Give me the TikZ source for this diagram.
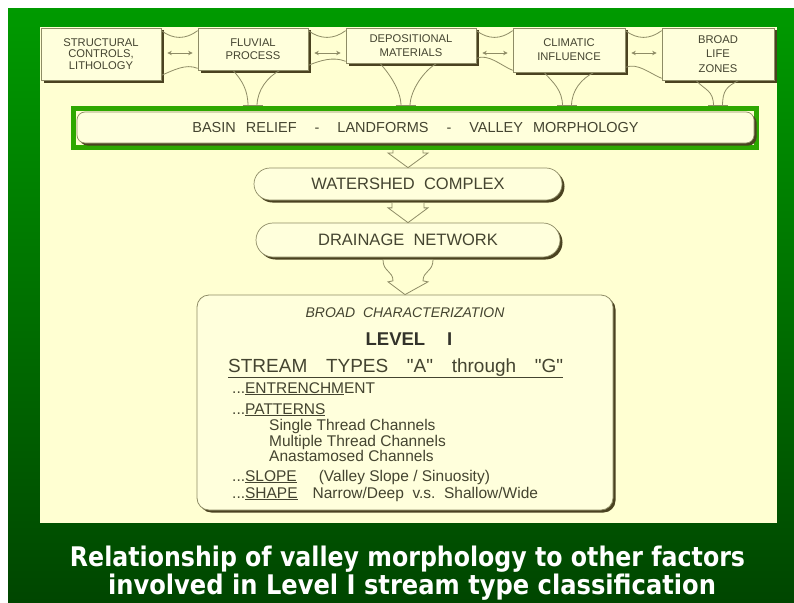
\documentclass[tikz,border=0pt]{standalone}
\usepackage{fontspec}
\usepackage{graphicx}
\setmainfont{Liberation Sans}[Ligatures=TeXOff]
\newfontfamily\capfont{DejaVu Sans}
\usetikzlibrary{shadows,calc,arrows.meta}
\definecolor{cream}{HTML}{FFFFD2}
\definecolor{boxfill}{HTML}{FFFFDC}
\definecolor{ink}{HTML}{444430}
\definecolor{inkdark}{HTML}{33332A}
\definecolor{edge}{HTML}{8E8C66}
\definecolor{shadowc}{HTML}{4A4220}
\definecolor{frameg}{HTML}{2EA800}
\definecolor{bgtop}{HTML}{009A00}
\definecolor{bgbot}{HTML}{004600}
\begin{document}
\begin{tikzpicture}[x=1pt,y=-1pt,
 shad/.style={drop shadow={shadow xshift=2.5pt,shadow yshift=-2.5pt,fill=shadowc,opacity=1}},
 topbox/.style={shad,draw=edge,line width=0.7pt,fill=boxfill,align=center,text=ink,inner sep=0pt},
 pill/.style={shad,draw=edge,line width=0.7pt,fill=boxfill,text=ink,inner sep=0pt,font=\fontsize{16.5}{18}\selectfont},
 conn/.style={draw=edge,line width=0.8pt},
 dbl/.style={draw=edge,line width=0.9pt,{Stealth[length=4.5pt,width=4.5pt]}-{Stealth[length=4.5pt,width=4.5pt]}},
 hollow/.style={draw=edge,line width=0.8pt,fill=cream,line join=miter},
 lvl/.style={anchor=base west,inner sep=0pt,text=ink,font=\fontsize{15.5}{17}\selectfont},
]
\useasboundingbox (0,0) rectangle (794,602);
\fill[white] (0,0) rectangle (794,602);
\shade[top color=bgtop,bottom color=bgbot] (8,9) rectangle (794,602);
\fill[cream] (40,27) rectangle (777,523);

% top row boxes
\node[topbox,minimum width=120pt,minimum height=52pt,font=\fontsize{11.2}{11.8}\selectfont] (b1) at (101,54) {STRUCTURAL\\CONTROLS,\\LITHOLOGY};
\node[topbox,minimum width=110pt,minimum height=42pt,font=\fontsize{11.2}{13}\selectfont] (b2) at (253,49) {FLUVIAL\\PROCESS};
\node[topbox,minimum width=130pt,minimum height=35pt,font=\fontsize{11.2}{14}\selectfont] (b3) at (411,45.5) {DEPOSITIONAL\\MATERIALS};
\node[topbox,minimum width=112pt,minimum height=44pt,font=\fontsize{11.2}{14}\selectfont] (b4) at (569,50) {CLIMATIC\\INFLUENCE};
\node[topbox,minimum width=112pt,minimum height=52pt,font=\fontsize{11.2}{14.5}\selectfont] (b5) at (718,54) {BROAD\\LIFE\\ZONES};

% double arrows between top boxes
\coordinate (ar) at (0,53);
\draw[dbl] ($(b1.east|-ar)+(6,0)$) -- ($(b2.west|-ar)+(-5,0)$);
\draw[dbl] ($(b2.east|-ar)+(6,0)$) -- ($(b3.west|-ar)+(-5,0)$);
\draw[dbl] ($(b3.east|-ar)+(6,0)$) -- ($(b4.west|-ar)+(-5,0)$);
\draw[dbl] ($(b4.east|-ar)+(6,0)$) -- ($(b5.west|-ar)+(-5,0)$);

% neck arcs between top boxes
\foreach \a/\b in {b1/b2,b2/b3,b3/b4,b4/b5}{
  \draw[conn] ($(\a.north east)+(0,3)$) .. controls +(12,9) and +(-12,9) .. ($(\b.north west)+(0,3)$);
  \draw[conn] ($(\a.south east)+(0,-5)$) .. controls +(12,-5) and +(-12,-5) .. ($(\b.south west)+(0,-2)$);
}

% basin relief frame and box
\node[draw=frameg,line width=5pt,minimum width=683pt,minimum height=39pt,inner sep=0pt] (basin) at (415,128) {};
\node[pill,rounded corners=8pt,minimum width=677pt,minimum height=31pt,font=\fontsize{14.5}{16}\selectfont] (relief) at (415.5,127.5)
  {BASIN\hspace{10pt}RELIEF\hspace{18pt}-\hspace{18pt}LANDFORMS\hspace{18pt}-\hspace{18pt}VALLEY\hspace{10pt}MORPHOLOGY};

% funnels from top boxes into the frame
\coordinate (f2) at ($(b2.south|-basin.north)+(-0.5,0)$);
\coordinate (f3) at ($(b3.south|-basin.north)+(-5.5,0)$);
\coordinate (f4) at ($(b4.south|-basin.north)+(-2,0)$);
\coordinate (f5) at ($(b5.south|-basin.north)+(0,0)$);
\foreach \bx/\fx/\l/\r in {b2/f2/-20/27, b3/f3/-31/26, b4/f4/-25/25, b5/f5/-22/21}{
  \draw[conn] ($(\bx.south)+(\l,0)$) .. controls +(9,10) and +(0,-16) .. ($(\fx)+(-4.5,0)$);
  \draw[conn] ($(\bx.south)+(\r,0)$) .. controls +(-12,6) and +(0,-16) .. ($(\fx)+(4.5,0)$);
  \draw[conn] ($(\fx)+(-10,-0.5)$) -- ($(\fx)+(10,-0.5)$);
}

% chain
\node[pill,rounded corners=16pt,minimum width=308pt,minimum height=32pt] (ws) at (408,184) {WATERSHED\ \ COMPLEX};
\node[pill,rounded corners=17pt,minimum width=304pt,minimum height=34pt] (dn) at (408,240) {DRAINAGE\ \ NETWORK};

\coordinate (a1) at (ws.north|-basin.south);
\draw[hollow] ($(a1)+(-15,0)$) -- ($(a1)+(-15,3)$) -- ($(a1)+(-20,3)$) -- (ws.north) -- ($(a1)+(20,3)$) -- ($(a1)+(15,3)$) -- ($(a1)+(15,0)$);
\coordinate (a2) at ($(ws.south)+(0,2.5)$);
\draw[hollow] ($(a2)+(-16,0)$) -- ($(a2)+(-16,5)$) -- ($(a2)+(-20,5)$) -- (dn.north) -- ($(a2)+(20,5)$) -- ($(a2)+(16,5)$) -- ($(a2)+(16,0)$);

% level I box
\node[shad,draw=edge,line width=0.8pt,fill=boxfill,rounded corners=12pt,minimum width=416pt,minimum height=215pt,inner sep=0pt] (lv) at (405,402.5) {};

\coordinate (a3) at ($(dn.south)+(0,2.5)$);
\draw[hollow] ($(a3)+(-25,0)$) .. controls +(0,12) and +(0,-10) .. ($(a3)+(-15,21)$) -- ($(a3)+(-20,22)$) -- (lv.north) -- ($(a3)+(20,22)$) -- ($(a3)+(15,21)$) .. controls +(0,-10) and +(0,12) .. ($(a3)+(25,0)$);

\node[lvl,anchor=base,font=\itshape\fontsize{14}{16}\selectfont] (bc) at (405,317) {BROAD\ \ CHARACTERIZATION};
\node[lvl,anchor=base,font=\bfseries\fontsize{18.5}{20}\selectfont,text=inkdark] (l1) at (409,345) {LEVEL\hspace{22pt}I};
\node[lvl,font=\fontsize{19}{21}\selectfont] (st) at (228,372) {\underline{\makebox[335pt][s]{STREAM TYPES "A" through "G"}}};
\node[lvl] (en) at (232,393) {...\underline{ENTRENCHM}ENT};
\node[lvl] (pt) at (232,414) {...\underline{PATTERNS}};
\node[lvl] (s1) at (269,430) {Single Thread Channels};
\node[lvl] (s2) at (269,446) {Multiple Thread Channels};
\node[lvl] (s3) at (269,461) {Anastamosed Channels};
\node[lvl] (sl) at (232,481) {...\underline{SLOPE}\hspace{22pt}(Valley Slope / Sinuosity)};
\node[lvl] (sh) at (232,498) {...\underline{SHAPE}\hspace{15pt}Narrow/Deep\ \ v.s.\ \ Shallow/Wide};

% caption
\node[text=white,inner sep=0pt,anchor=base] (cap1) at (407.5,566) {\resizebox{675pt}{\height}{\capfont\bfseries\fontsize{27}{30}\selectfont Relationship of valley morphology to other factors}};
\node[text=white,inner sep=0pt,anchor=base] (cap2) at (412,594) {\resizebox{608pt}{\height}{\capfont\bfseries\fontsize{27}{30}\selectfont involved in Level I stream type classification}};
\end{tikzpicture}
\end{document}
